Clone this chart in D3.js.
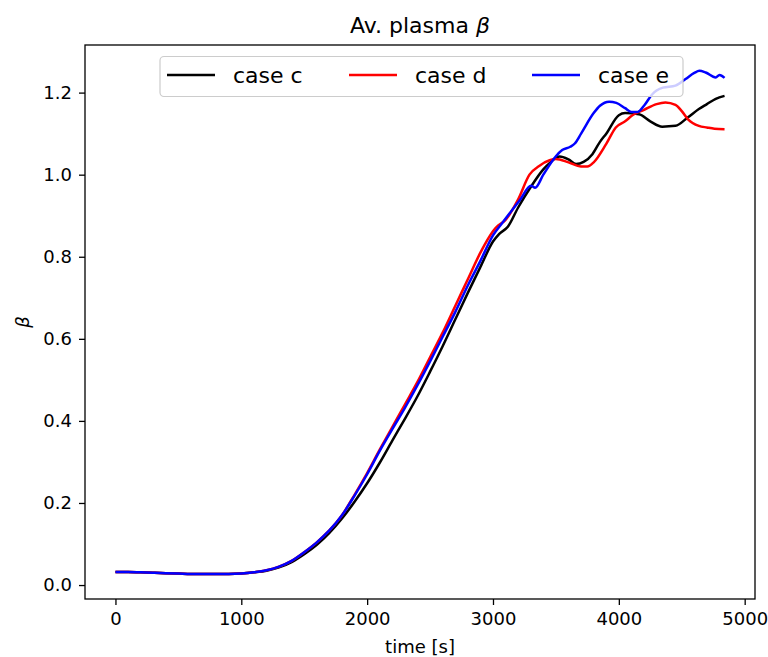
<!DOCTYPE html>
<html><head><meta charset="utf-8">
<script src="https://cdn.jsdelivr.net/npm/d3@7/dist/d3.min.js"></script>
<style>body{margin:0;background:#fff}svg{display:block}text{font-family:"DejaVu Sans",sans-serif}</style>
</head><body><svg id="c" width="768" height="657"></svg>
<script>
const xTicks = [0,1000,2000,3000,4000,5000];
const yTicks = [0.0,0.2,0.4,0.6,0.8,1.0,1.2];
const seriesNames = ["case c","case d","case e"];
const seriesColors = ["#000000","#ff0000","#0000ff"];

const tC = [0,100,200,300,400,500,600,700,800,900,1000,1100,1200,1300,1400,1500,1600,1700,1800,1900,2000,2100,2200,2300,2400,2500,2600,2700,2800,2900,3000,3050,3118,3200,3300,3400,3456,3530,3600,3660,3720,3790,3850,3900,4000,4050,4160,4250,4345,4450,4550,4636,4700,4770,4840];
const vC = [0.032,0.032,0.031,0.030,0.029,0.028,0.027,0.027,0.027,0.027,0.028,0.031,0.035,0.043,0.056,0.075,0.098,0.127,0.162,0.203,0.248,0.298,0.352,0.405,0.46,0.52,0.582,0.647,0.712,0.775,0.837,0.856,0.873,0.92,0.97,1.013,1.03,1.044,1.037,1.026,1.031,1.05,1.08,1.1,1.145,1.15,1.147,1.13,1.117,1.119,1.14,1.16,1.172,1.185,1.192];

const tD = [0,100,200,300,400,500,600,700,800,900,1000,1100,1200,1300,1400,1500,1600,1700,1800,1900,2000,2100,2200,2300,2400,2500,2600,2700,2800,2900,3000,3026,3100,3200,3290,3370,3450,3500,3600,3700,3750,3800,3900,3976,4050,4105,4200,4300,4370,4450,4500,4550,4636,4700,4760,4840];
const vD = [0.032,0.032,0.031,0.030,0.029,0.028,0.027,0.027,0.027,0.027,0.028,0.031,0.036,0.045,0.059,0.080,0.104,0.133,0.170,0.220,0.273,0.330,0.385,0.440,0.495,0.555,0.615,0.68,0.745,0.81,0.862,0.872,0.89,0.94,1.0,1.022,1.035,1.038,1.03,1.02,1.02,1.03,1.075,1.115,1.13,1.144,1.158,1.172,1.176,1.17,1.155,1.135,1.119,1.115,1.112,1.111];

const tE = [0,100,200,300,400,500,600,700,800,900,1000,1100,1200,1300,1400,1500,1600,1700,1800,1900,2000,2100,2200,2300,2400,2500,2600,2700,2800,2900,3000,3078,3211,3303,3335,3400,3500,3550,3614,3650,3700,3800,3850,3923,3980,4050,4100,4150,4200,4266,4300,4350,4450,4530,4600,4640,4690,4770,4800,4840];
const vE = [0.032,0.032,0.031,0.030,0.029,0.028,0.027,0.027,0.027,0.027,0.028,0.031,0.036,0.045,0.059,0.080,0.104,0.133,0.170,0.218,0.270,0.327,0.380,0.432,0.487,0.545,0.605,0.665,0.73,0.79,0.852,0.884,0.937,0.973,0.968,1.0,1.045,1.06,1.068,1.076,1.10,1.15,1.168,1.178,1.175,1.162,1.153,1.153,1.168,1.196,1.205,1.212,1.217,1.233,1.248,1.253,1.249,1.237,1.243,1.236];

const seriesT = [tC,tD,tE];
const seriesV = [vC,vD,vE];

const svg = d3.select("#c");
const L=85, R=755, T=45, B=599;
const x = d3.scaleLinear().domain([-242,5082]).range([L,R]);
const y = d3.scaleLinear().domain([-0.034,1.316]).range([B,T]);

const xa = svg.append("g").attr("transform",`translate(0,${B})`)
  .call(d3.axisBottom(x).tickValues(xTicks).tickFormat(d3.format("d")).tickSizeOuter(0).tickSize(6).tickPadding(7));
const ya = svg.append("g").attr("transform",`translate(${L},0)`)
  .call(d3.axisLeft(y).tickValues(yTicks).tickFormat(d3.format(".1f")).tickSizeOuter(0).tickSize(6).tickPadding(7));
[xa,ya].forEach(a=>{
  a.select(".domain").remove();
  a.selectAll("line").attr("stroke","#000").attr("stroke-width",1.3);
  a.selectAll("text").attr("font-size",18).attr("fill","#000").attr("font-family","DejaVu Sans");
});

const line = d3.line().curve(d3.curveMonotoneX);
seriesT.forEach((ts,i)=>{
  const pts = ts.map((t,j)=>[x(t),y(seriesV[i][j])]);
  svg.append("path").attr("d",line(pts)).attr("fill","none")
    .attr("stroke",seriesColors[i]).attr("stroke-width",2.5).attr("stroke-linejoin","round");
});

svg.append("rect").attr("x",L).attr("y",T).attr("width",R-L).attr("height",B-T)
  .attr("fill","none").attr("stroke","#000").attr("stroke-width",1.3);

const lg = svg.append("g");
lg.append("rect").attr("x",160).attr("y",56.5).attr("width",523).attr("height",40).attr("rx",4)
  .attr("fill","#fff").attr("fill-opacity",0.8).attr("stroke","#cccccc").attr("stroke-width",1.2);
const lx = [167,349,532];
seriesNames.forEach((n,i)=>{
  lg.append("line").attr("x1",lx[i]).attr("x2",lx[i]+48).attr("y1",75).attr("y2",75)
    .attr("stroke",seriesColors[i]).attr("stroke-width",2.5);
  lg.append("text").attr("x",lx[i]+66).attr("y",83).attr("font-size",22).text(n);
});

const title = svg.append("text").attr("x",(L+R)/2).attr("y",33).attr("text-anchor","middle").attr("font-size",22);
title.append("tspan").text("Av. plasma ");
title.append("tspan").attr("font-style","italic").text("β");
svg.append("text").attr("x",(L+R)/2).attr("y",653).attr("text-anchor","middle").attr("font-size",18).text("time [s]");
svg.append("text").attr("transform","translate(29,322) rotate(-90)").attr("text-anchor","middle")
  .attr("font-size",18).attr("font-style","italic").text("β");
</script></body></html>
